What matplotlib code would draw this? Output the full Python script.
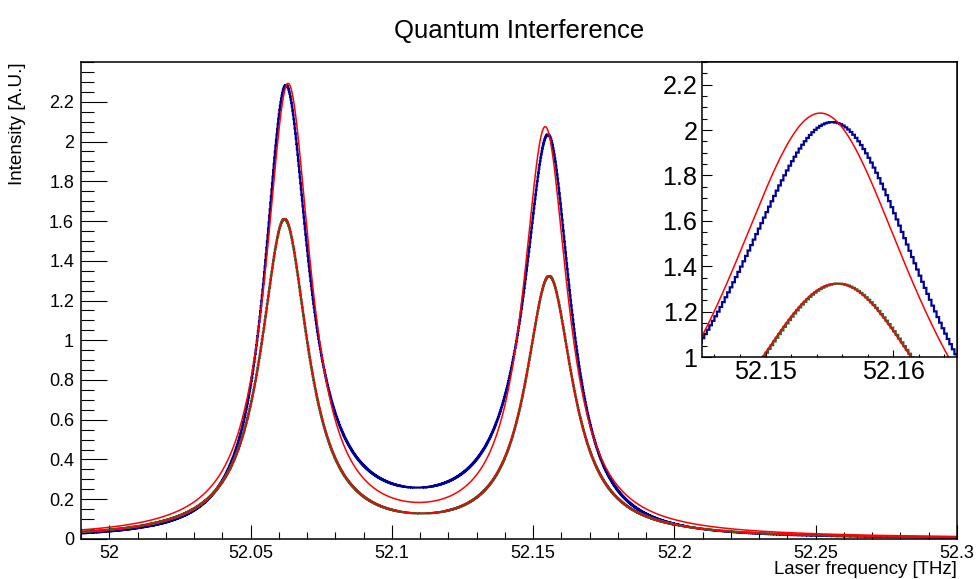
import numpy as np
import matplotlib
matplotlib.use("Agg")
import matplotlib.pyplot as plt
from matplotlib.ticker import MultipleLocator, FuncFormatter

plt.rcParams['font.family'] = ['Liberation Sans', 'DejaVu Sans']

# Histogram binning of the laser scan [THz]
bin_lo, bin_hi, bin_width = 51.99, 52.3, 0.0002

# Coherent spectrum (two interfering resonances): amplitudes, relative phase [deg],
# half widths [THz] and centres [THz]
coh_amp = [1.6497, 1.5634]
coh_phase_deg = 233.65
coh_gamma = [0.00938, 0.00996]
coh_center = [52.06207, 52.15577]

# Incoherent spectrum: peak heights, half widths and centres
inc_amp = [1.595, 1.305]
inc_gamma = [0.0101, 0.0101]
inc_center = [52.0620, 52.1557]

# Double-Lorentzian fit to the coherent spectrum
fit_coh_amp = [2.27, 2.05]
fit_coh_gamma = [0.0096, 0.0096]
fit_coh_center = [52.0633, 52.1543]

# Double-Lorentzian fit to the incoherent spectrum
fit_inc_amp = [1.597, 1.306]
fit_inc_gamma = [0.0101, 0.0101]
fit_inc_center = [52.0621, 52.1556]

x_ticks = [52.0, 52.05, 52.1, 52.15, 52.2, 52.25, 52.3]
y_ticks = [0, 0.2, 0.4, 0.6, 0.8, 1.0, 1.2, 1.4, 1.6, 1.8, 2.0, 2.2]
inset_x_ticks = [52.15, 52.16]
inset_y_ticks = [1.0, 1.2, 1.4, 1.6, 1.8, 2.0, 2.2]


def coherent(x):
    t = (coh_amp[0] * coh_gamma[0] / (x - coh_center[0] + 1j * coh_gamma[0])
         + coh_amp[1] * coh_gamma[1] * np.exp(1j * np.deg2rad(coh_phase_deg))
         / (x - coh_center[1] + 1j * coh_gamma[1]))
    return np.abs(t) ** 2


def lorentz_sum(x, amp, gamma, center):
    y = np.zeros_like(x)
    for a, g, c in zip(amp, gamma, center):
        y += a * g ** 2 / ((x - c) ** 2 + g ** 2)
    return y


edges = np.arange(bin_lo, bin_hi + bin_width / 2, bin_width)
centers = 0.5 * (edges[1:] + edges[:-1])
h_coh = coherent(centers)
h_inc = lorentz_sum(centers, inc_amp, inc_gamma, inc_center)

xf = np.linspace(bin_lo, bin_hi, 6000)
f_coh = lorentz_sum(xf, fit_coh_amp, fit_coh_gamma, fit_coh_center)
f_inc = lorentz_sum(xf, fit_inc_amp, fit_inc_gamma, fit_inc_center)

BLUE = '#000099'
GREEN = '#336633'
RED = '#ff0000'
fmt = FuncFormatter(lambda v, pos: '%g' % round(v, 4))


def draw(ax):
    ax.stairs(h_coh, edges, color=BLUE, lw=1.6, baseline=None)
    ax.stairs(h_inc, edges, color=GREEN, lw=1.6, baseline=None)
    ax.plot(xf, f_coh, color=RED, lw=1.1)
    ax.plot(xf, f_inc, color=RED, lw=1.1)


fig = plt.figure(figsize=(9.77, 5.79), dpi=100)

# Main pad
ax = fig.add_axes([0.0829, 0.0691, 0.8966, 0.8238])
draw(ax)
ax.set_xlim(51.99, 52.3)
ax.set_ylim(0, 2.4)
ax.set_xticks(x_ticks)
ax.set_yticks(y_ticks)
ax.xaxis.set_minor_locator(MultipleLocator(0.01))
ax.yaxis.set_minor_locator(MultipleLocator(0.05))
ax.xaxis.set_major_formatter(fmt)
ax.yaxis.set_major_formatter(fmt)
ax.tick_params(which='both', direction='in', top=False, right=False, width=0.8,
               labelsize=13)
ax.tick_params(axis='x', which='major', length=10, pad=4)
ax.tick_params(axis='x', which='minor', length=5)
ax.tick_params(axis='y', which='major', length=19, pad=5)
ax.tick_params(axis='y', which='minor', length=9.5)
for s in ax.spines.values():
    s.set_linewidth(1.1)

fig.text(0.5315, 0.946, 'Quantum Interference', ha='center', va='center', fontsize=18.5)
fig.text(0.018, 0.893, 'Intensity [A.U.]', rotation=90, ha='center', va='top', fontsize=13.6)
fig.text(0.9795, 0.0085, 'Laser frequency [THz]', ha='right', va='baseline', fontsize=13.4)

# Zoomed pad on the second resonance
ins = fig.add_axes([0.7182, 0.3834, 0.2613, 0.5095])
ins.set_facecolor('white')
draw(ins)
ins.set_xlim(52.145, 52.165)
ins.set_ylim(1.0, 2.3)
ins.set_xticks(inset_x_ticks)
ins.set_yticks(inset_y_ticks)
ins.xaxis.set_minor_locator(MultipleLocator(0.002))
ins.yaxis.set_minor_locator(MultipleLocator(0.05))
ins.xaxis.set_major_formatter(fmt)
ins.yaxis.set_major_formatter(fmt)
ins.tick_params(which='both', direction='in', top=False, right=False, width=0.8,
                labelsize=18.2)
ins.tick_params(axis='x', which='major', length=5, pad=2)
ins.tick_params(axis='x', which='minor', length=2.5)
ins.tick_params(axis='y', which='major', length=7.5, pad=3)
ins.tick_params(axis='y', which='minor', length=3.8)
for s in ins.spines.values():
    s.set_linewidth(1.1)

fig.savefig("out.png", dpi=100)
